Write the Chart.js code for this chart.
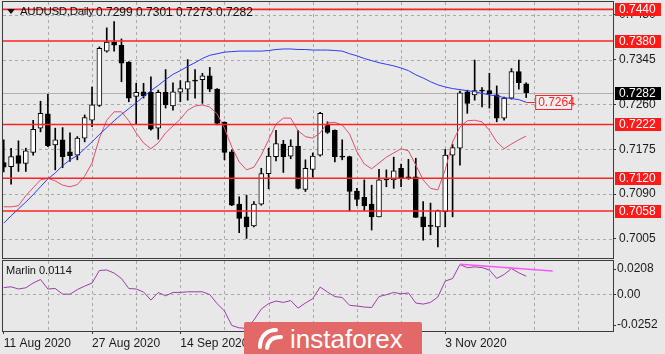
<!DOCTYPE html>
<html>
<head>
<meta charset="utf-8">
<script src="https://cdn.jsdelivr.net/npm/chart.js@4.4.0/dist/chart.umd.min.js"></script>
<style>
html, body { margin: 0; padding: 0; background: #e8e8e8; }
#wrap { position: relative; width: 665px; height: 354px; overflow: hidden; font-family: "Liberation Sans", Arial, sans-serif; color: #111; }
canvas { position: absolute; left: 0; }
#main { top: 0; }
#sub { top: 260px; }
#tri { position: absolute; left: 7px; top: 9px; width: 0; height: 0; border-left: 4px solid transparent; border-right: 4px solid transparent; border-top: 5px solid #111; }
#sym { position: absolute; left: 20px; top: 5px; font-size: 11.5px; letter-spacing: -0.3px; }
#ohlc { position: absolute; left: 96px; top: 5px; font-size: 12px; word-spacing: 0px; }
#ind { position: absolute; left: 6px; top: 264px; font-size: 11px; }
#logo { position: absolute; left: 244px; top: 322px; width: 178px; height: 34px; background: #e36868; border-radius: 2px 2px 0 0; }
#logo span { position: absolute; left: 46px; top: 1px; font-size: 26px; line-height: 32px; color: #fff; }
#logo svg { position: absolute; left: 12px; top: 5px; }
</style>
</head>
<body>
<div id="wrap">
  <canvas id="main" width="665" height="260"></canvas>
  <canvas id="sub" width="665" height="94"></canvas>
  <div id="tri"></div>
  <div id="sym">AUDUSD,Daily</div>
  <div id="ohlc">0.7299 0.7301 0.7273 0.7282</div>
  <div id="ind">Marlin 0.0114</div>
  <div id="logo">
    <svg width="30" height="24" viewBox="0 0 30 24">
      <path d="M4 20 C4 8 12 3 20 3" stroke="#fff" stroke-width="4" fill="none" stroke-linecap="round"/>
      <path d="M11 21 C12 13 17 10 25 10" stroke="#fff" stroke-width="4" fill="none" stroke-linecap="round"/>
    </svg>
    <span>instaforex</span>
  </div>
</div>
<script>
// bottom axis labels (bar index -> date)
const dates = ['11 Aug 2020', '27 Aug 2020', '14 Sep 2020', '30 Sep 2020', '16 Oct 2020', '3 Nov 2020'];
const dateIdx = [0, 12, 24, 36, 48, 60];

// daily candles AUDUSD
const open = [0.7150, 0.7142, 0.7163, 0.7148, 0.7169, 0.7215, 0.7242, 0.7183, 0.7193, 0.7170,
  0.7164, 0.7196, 0.7230, 0.7258, 0.7361, 0.7378, 0.7372, 0.7340, 0.7275, 0.7284,
  0.7283, 0.7215, 0.7283, 0.7257, 0.7283, 0.7289, 0.7306, 0.7307, 0.7314, 0.7289,
  0.7226, 0.7170, 0.7071, 0.7047, 0.7030, 0.7071, 0.7129, 0.7161, 0.7185, 0.7162,
  0.7181, 0.7099, 0.7137, 0.7164, 0.7221, 0.7211, 0.7162, 0.7161, 0.7096, 0.7084,
  0.7071, 0.7047, 0.7119, 0.7117, 0.7139, 0.7123, 0.7123, 0.7047, 0.7031, 0.7028,
  0.7057, 0.7164, 0.7177, 0.7284, 0.7278, 0.7287, 0.7286, 0.7278, 0.7234, 0.7272,
  0.7322, 0.7299];
const high = [0.7193, 0.7177, 0.7191, 0.7177, 0.7230, 0.7266, 0.7279, 0.7215, 0.7216, 0.7206,
  0.7199, 0.7240, 0.7293, 0.7369, 0.7405, 0.7417, 0.7384, 0.7341, 0.7300, 0.7300,
  0.7312, 0.7287, 0.7326, 0.7301, 0.7305, 0.7345, 0.7326, 0.7319, 0.7330, 0.7290,
  0.7227, 0.7174, 0.7085, 0.7088, 0.7076, 0.7139, 0.7177, 0.7211, 0.7192, 0.7193,
  0.7211, 0.7155, 0.7168, 0.7245, 0.7227, 0.7212, 0.7193, 0.7162, 0.7101, 0.7117,
  0.7107, 0.7137, 0.7136, 0.7160, 0.7147, 0.7156, 0.7158, 0.7076, 0.7073, 0.7060,
  0.7175, 0.7184, 0.7285, 0.7287, 0.7344, 0.7292, 0.7319, 0.7295, 0.7274, 0.7328,
  0.7344, 0.7301];
const low = [0.7132, 0.7109, 0.7133, 0.7133, 0.7164, 0.7208, 0.7180, 0.7136, 0.7140, 0.7152,
  0.7155, 0.7189, 0.7218, 0.7256, 0.7359, 0.7361, 0.7303, 0.7265, 0.7222, 0.7272,
  0.7211, 0.7194, 0.7253, 0.7249, 0.7265, 0.7268, 0.7272, 0.7262, 0.7284, 0.7221,
  0.7155, 0.7068, 0.7017, 0.7006, 0.7028, 0.7069, 0.7100, 0.7153, 0.7131, 0.7157,
  0.7100, 0.7095, 0.7122, 0.7162, 0.7205, 0.7151, 0.7155, 0.7058, 0.7068, 0.7059,
  0.7022, 0.7047, 0.7104, 0.7101, 0.7104, 0.7118, 0.7046, 0.7003, 0.7013, 0.6990,
  0.7028, 0.7047, 0.7145, 0.7243, 0.7268, 0.7255, 0.7253, 0.7227, 0.7230, 0.7270,
  0.7289, 0.7273];
const close = [0.7141, 0.7161, 0.7148, 0.7172, 0.7213, 0.7243, 0.7182, 0.7193, 0.7161, 0.7163,
  0.7196, 0.7235, 0.7259, 0.7366, 0.7378, 0.7372, 0.7338, 0.7272, 0.7283, 0.7276,
  0.7213, 0.7283, 0.7259, 0.7284, 0.7290, 0.7303, 0.7304, 0.7314, 0.7289, 0.7224,
  0.7169, 0.7069, 0.7044, 0.7028, 0.7071, 0.7129, 0.7162, 0.7186, 0.7161, 0.7181,
  0.7101, 0.7139, 0.7162, 0.7243, 0.7207, 0.7161, 0.7160, 0.7095, 0.7080, 0.7068,
  0.7047, 0.7117, 0.7117, 0.7134, 0.7120, 0.7121, 0.7046, 0.7028, 0.7029, 0.7059,
  0.7164, 0.7178, 0.7282, 0.7262, 0.7286, 0.7285, 0.7280, 0.7234, 0.7272, 0.7322,
  0.7301, 0.7282];

// moving averages
const maSlow = [0.7035, 0.7049, 0.7062, 0.7075, 0.7089, 0.7104, 0.7119, 0.7130, 0.7144, 0.7155,
  0.7163, 0.7176, 0.7189, 0.7203, 0.7216, 0.7229, 0.7241, 0.7252, 0.7263, 0.7275,
  0.7286, 0.7296, 0.7307, 0.7317, 0.7324, 0.7332, 0.7339, 0.7347, 0.7353, 0.7356,
  0.7359, 0.7360, 0.7361, 0.7361, 0.7361, 0.7361, 0.7362, 0.7364, 0.7365, 0.7365,
  0.7364, 0.7364, 0.7363, 0.7363, 0.7363, 0.7362, 0.7361, 0.7356, 0.7352, 0.7347,
  0.7343, 0.7339, 0.7336, 0.7333, 0.7329, 0.7324, 0.7316, 0.7310, 0.7303, 0.7297,
  0.7293, 0.7290, 0.7288, 0.7286, 0.7284, 0.7281, 0.7278, 0.7276, 0.7273, 0.7271,
  0.7269, 0.7264];
const maFast = [0.7066, 0.7066, 0.7068, 0.7087, 0.7102, 0.7117, 0.7120, 0.7115, 0.7107, 0.7104,
  0.7108, 0.7124, 0.7149, 0.7196, 0.7230, 0.7246, 0.7246, 0.7229, 0.7206, 0.7187,
  0.7176, 0.7187, 0.7206, 0.7219, 0.7232, 0.7249, 0.7257, 0.7259, 0.7255, 0.7242,
  0.7215, 0.7179, 0.7151, 0.7136, 0.7141, 0.7164, 0.7193, 0.7223, 0.7234, 0.7234,
  0.7210, 0.7199, 0.7196, 0.7206, 0.7225, 0.7226, 0.7221, 0.7204, 0.7170, 0.7147,
  0.7138, 0.7149, 0.7160, 0.7168, 0.7176, 0.7172, 0.7145, 0.7117, 0.7101, 0.7098,
  0.7136, 0.7189, 0.7217, 0.7229, 0.7230, 0.7227, 0.7211, 0.7189, 0.7176, 0.7185,
  0.7193, 0.7200];

// Marlin oscillator
const marlin = [0.0056, 0.0062, 0.0044, 0.0054, 0.0093, 0.0122, 0.0044, 0.0048, 0.0002, 0.0001,
  0.0039, 0.0068, 0.0093, 0.0196, 0.0200, 0.0175, 0.0130, 0.0048, 0.0044, 0.0019,
  -0.0047, 0.0015, -0.0012, 0.0016, 0.0016, 0.0021, 0.0021, 0.0021, -0.0002, -0.0076,
  -0.0137, -0.0256, -0.0275, -0.0279, -0.0211, -0.0121, -0.0076, -0.0055, -0.0066, -0.0051,
  -0.0113, -0.0071, -0.0035, 0.0060, 0.0019, -0.0018, -0.0026, -0.0090, -0.0096, -0.0104,
  -0.0108, -0.0018, -0.0003, 0.0016, 0.0004, 0.0012, -0.0071, -0.0080, -0.0066, -0.0022,
  0.0109, 0.0130, 0.0245, 0.0219, 0.0226, 0.0220, 0.0200, 0.0131, 0.0163, 0.0212,
  0.0177, 0.0149];
// divergence line on the oscillator
const trendX = [62, 74.6];
const trendY = [0.0247, 0.0191];

const levels = [0.7440, 0.7380, 0.7222, 0.7120, 0.7058];
const bid = 0.7282;
const priceTicks = [0.7005, 0.7090, 0.7175, 0.7260, 0.7345, 0.7430];
const marlinTicks = [0.0208, 0, -0.0252];

Chart.defaults.font.family = '"Liberation Sans", Arial, sans-serif';
Chart.defaults.font.size = 12;
Chart.defaults.color = '#1a1a1a';

const idx = open.map((_, i) => i);
const bodyColors = idx.map(i => close[i] >= open[i] ? '#ffffff' : '#000000');
const xMin = -0.1, xMax = 82.8;

function vGrid(ctx, a, x) {
  for (let i = 6; i <= xMax; i += 6) {
    const px = Math.round(x.getPixelForValue(i)) + 0.5;
    ctx.moveTo(px, a.top);
    ctx.lineTo(px, a.bottom);
  }
}

function tag(ctx, py, text, bg, fg) {
  ctx.fillStyle = bg;
  ctx.fillRect(615, Math.round(py) - 6, 46, 13);
  ctx.fillStyle = fg;
  ctx.textAlign = 'left';
  ctx.textBaseline = 'middle';
  ctx.fillText(text, 619, Math.round(py) + 0.5);
}

const mainDecor = {
  id: 'mainDecor',
  beforeDatasetsDraw(chart) {
    const { ctx, chartArea: a, scales: { x, y } } = chart;
    ctx.save();
    ctx.strokeStyle = '#a9a9a9';
    ctx.lineWidth = 1;
    ctx.setLineDash([3, 3]);
    ctx.beginPath();
    priceTicks.forEach(v => {
      const py = Math.round(y.getPixelForValue(v)) + 0.5;
      ctx.moveTo(a.left, py);
      ctx.lineTo(a.right, py);
    });
    vGrid(ctx, a, x);
    ctx.stroke();
    // bid line
    ctx.setLineDash([]);
    ctx.strokeStyle = '#b0b0b0';
    ctx.beginPath();
    const by = Math.round(y.getPixelForValue(bid)) + 0.5;
    ctx.moveTo(a.left, by);
    ctx.lineTo(a.right, by);
    ctx.stroke();
    ctx.restore();
  },
  afterDatasetsDraw(chart) {
    const { ctx, chartArea: a, scales: { y } } = chart;
    ctx.save();
    ctx.strokeStyle = '#ff2222';
    ctx.lineWidth = 1.6;
    ctx.beginPath();
    levels.forEach(v => {
      const py = y.getPixelForValue(v);
      ctx.moveTo(a.left, py);
      ctx.lineTo(a.right, py);
    });
    ctx.stroke();
    ctx.restore();
  },
  afterDraw(chart) {
    const { ctx, chartArea: a, scales: { x, y } } = chart;
    ctx.save();
    ctx.font = '12px "Liberation Sans", Arial, sans-serif';
    levels.forEach(v => tag(ctx, y.getPixelForValue(v), v.toFixed(4), '#ff1a1a', '#ffffff'));
    tag(ctx, y.getPixelForValue(bid), bid.toFixed(4), '#000000', '#ffffff');
    // value of the slow MA
    const last = maSlow[maSlow.length - 1];
    const lx = x.getPixelForValue(maSlow.length - 1);
    const ly = Math.round(y.getPixelForValue(last)) + 0.5;
    ctx.strokeStyle = '#ff2222';
    ctx.lineWidth = 1;
    ctx.beginPath();
    ctx.moveTo(lx, ly);
    ctx.lineTo(lx + 9, ly);
    ctx.stroke();
    ctx.fillStyle = '#f4f0f0';
    ctx.fillRect(lx + 9.5, ly - 7, 36, 14);
    ctx.strokeRect(lx + 9.5, ly - 7, 36, 14);
    ctx.fillStyle = '#ff2222';
    ctx.textBaseline = 'middle';
    ctx.fillText(last.toFixed(4), lx + 12, ly + 0.5);
    // frame
    ctx.strokeStyle = '#3a3a3a';
    ctx.strokeRect(a.left - 0.5, a.top - 0.5, a.right - a.left + 1, a.bottom - a.top + 1);
    ctx.restore();
  }
};

const subDecor = {
  id: 'subDecor',
  beforeDatasetsDraw(chart) {
    const { ctx, chartArea: a, scales: { x, y } } = chart;
    ctx.save();
    ctx.strokeStyle = '#a9a9a9';
    ctx.lineWidth = 1;
    ctx.setLineDash([3, 3]);
    ctx.beginPath();
    const zy = Math.round(y.getPixelForValue(0)) + 0.5;
    ctx.moveTo(a.left, zy);
    ctx.lineTo(a.right, zy);
    vGrid(ctx, a, x);
    ctx.stroke();
    ctx.restore();
  },
  afterDraw(chart) {
    const { ctx, chartArea: a } = chart;
    ctx.save();
    ctx.strokeStyle = '#3a3a3a';
    ctx.lineWidth = 1;
    ctx.strokeRect(a.left - 0.5, a.top - 0.5, a.right - a.left + 1, a.bottom - a.top + 1);
    ctx.restore();
  }
};

new Chart(document.getElementById('main'), {
  type: 'bar',
  data: {
    datasets: [
      { type: 'line', data: idx.map(i => ({ x: i, y: maSlow[i] })), borderColor: '#2b3cf5', borderWidth: 1, pointRadius: 0, tension: 0, order: 1 },
      { type: 'line', data: idx.map(i => ({ x: i, y: maFast[i] })), borderColor: '#e64b6a', borderWidth: 1, pointRadius: 0, tension: 0, order: 1 },
      { data: idx.map(i => ({ x: i, y: [open[i], close[i]] })), backgroundColor: bodyColors, borderColor: '#000000', borderWidth: 1, borderSkipped: false, barThickness: 5, grouped: false, order: 2 },
      { data: idx.map(i => ({ x: i, y: [low[i], high[i]] })), backgroundColor: '#000000', barThickness: 1, grouped: false, order: 3 }
    ]
  },
  options: {
    responsive: false,
    animation: false,
    events: [],
    layout: { padding: { left: 3, top: 2, right: 0, bottom: 2 } },
    plugins: { legend: { display: false }, tooltip: { enabled: false } },
    scales: {
      x: { type: 'linear', min: xMin, max: xMax, offset: false, display: false },
      y: {
        position: 'right', min: 0.6969, max: 0.7454,
        afterBuildTicks: s => { s.ticks = priceTicks.map(v => ({ value: v })); },
        afterFit: s => { s.width = 52; s.paddingTop = 0; s.paddingBottom = 0; },
        ticks: { autoSkip: false, padding: 3, callback: v => Number(v).toFixed(4) },
        grid: { drawOnChartArea: false, drawTicks: true, tickLength: 3, tickColor: '#333' },
        border: { display: false }
      }
    }
  },
  plugins: [mainDecor]
});

new Chart(document.getElementById('sub'), {
  type: 'line',
  data: {
    datasets: [
      { data: trendX.map((v, k) => ({ x: v, y: trendY[k] })), borderColor: '#ff55ff', borderWidth: 1.5, pointRadius: 0, order: 0 },
      { data: idx.map(i => ({ x: i, y: marlin[i] })), borderColor: '#9e3ca8', borderWidth: 1, pointRadius: 0, tension: 0, order: 1 }
    ]
  },
  options: {
    responsive: false,
    animation: false,
    events: [],
    layout: { padding: { left: 3, top: 1, right: 0, bottom: 0 } },
    plugins: { legend: { display: false }, tooltip: { enabled: false } },
    scales: {
      x: {
        type: 'linear', min: xMin, max: xMax, offset: false,
        afterBuildTicks: s => { s.ticks = dateIdx.map(v => ({ value: v })); },
        afterFit: s => { s.height = 23; s.paddingLeft = 0; s.paddingRight = 0; },
        ticks: { autoSkip: false, maxRotation: 0, align: 'start', padding: 2, callback: v => dates[dateIdx.indexOf(v)] },
        grid: { drawOnChartArea: false, drawTicks: true, tickLength: 3, tickColor: '#333' },
        border: { display: false }
      },
      y: {
        position: 'right', min: -0.0301, max: 0.0274,
        afterBuildTicks: s => { s.ticks = marlinTicks.map(v => ({ value: v })); },
        afterFit: s => { s.width = 52; s.paddingTop = 0; s.paddingBottom = 0; },
        ticks: { autoSkip: false, padding: 1, callback: v => v === 0 ? '0.00' : Number(v).toFixed(4) },
        grid: { drawOnChartArea: false, drawTicks: true, tickLength: 3, tickColor: '#333' },
        border: { display: false }
      }
    }
  },
  plugins: [subDecor]
});
</script>
</body>
</html>
